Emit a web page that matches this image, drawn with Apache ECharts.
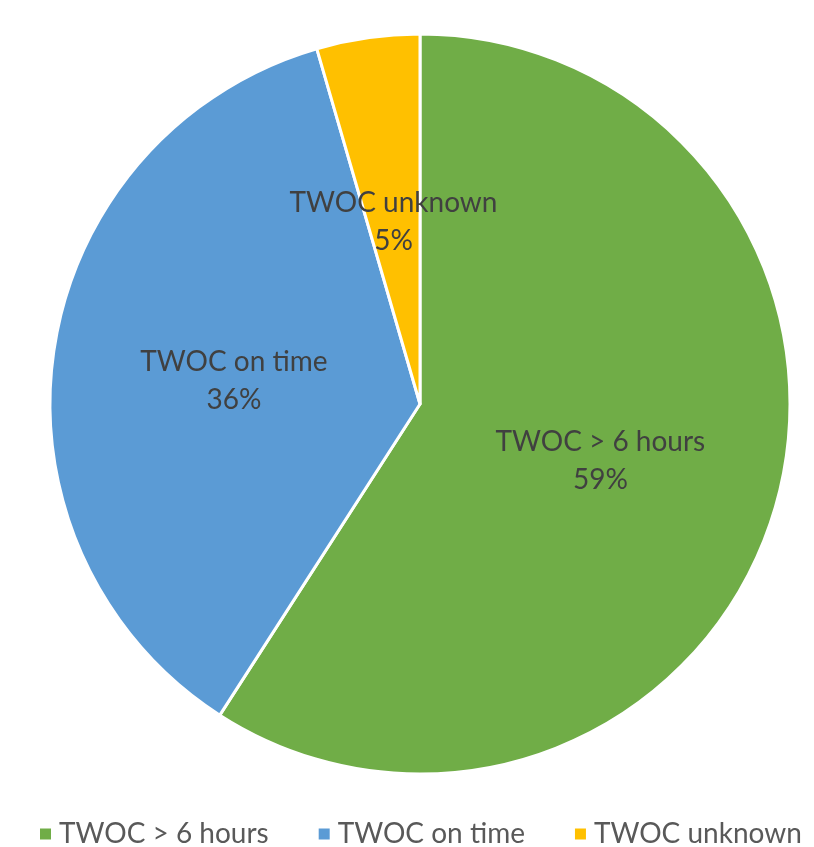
<!DOCTYPE html>
<html><head><meta charset="utf-8">
<script src="https://cdn.jsdelivr.net/npm/echarts@6/dist/echarts.min.js"></script>
<style>html,body{margin:0;padding:0;background:#fff}#c{width:814px;height:847px}</style>
</head><body><div id="c"></div>
<script>
const categories = ['TWOC > 6 hours', 'TWOC on time', 'TWOC unknown'];
const values = [59.1, 36.4, 4.5];
const colors = ['#70AD47', '#5B9BD5', '#FFC000'];

const chart = echarts.init(document.getElementById('c'), null, {renderer: 'canvas'});
chart.setOption({
  animation: false,
  color: colors,
  legend: {
    top: 820,
    left: 38,
    width: 776,
    padding: 0,
    icon: 'rect',
    itemWidth: 13,
    itemHeight: 13,
    itemGap: 48,
    textStyle: {fontFamily: 'Lato', fontSize: 28, color: '#595959', padding: [0, 0, 0, 2]},
    data: categories
  },
  series: [{
    type: 'pie',
    center: [420, 404],
    radius: 370,
    startAngle: 90,
    clockwise: true,
    percentPrecision: 0,
    itemStyle: {borderColor: '#fff', borderWidth: 3},
    label: {
      position: 'inside',
      formatter: '{b}\n{d}%',
      fontFamily: 'Lato',
      fontSize: 28,
      lineHeight: 38,
      color: '#404040',
      offset: [0, 4]
    },
    labelLine: {show: false},
    emphasis: {disabled: true},
    data: categories.map((n, i) => ({name: n, value: values[i]}))
  }]
});
</script></body></html>
